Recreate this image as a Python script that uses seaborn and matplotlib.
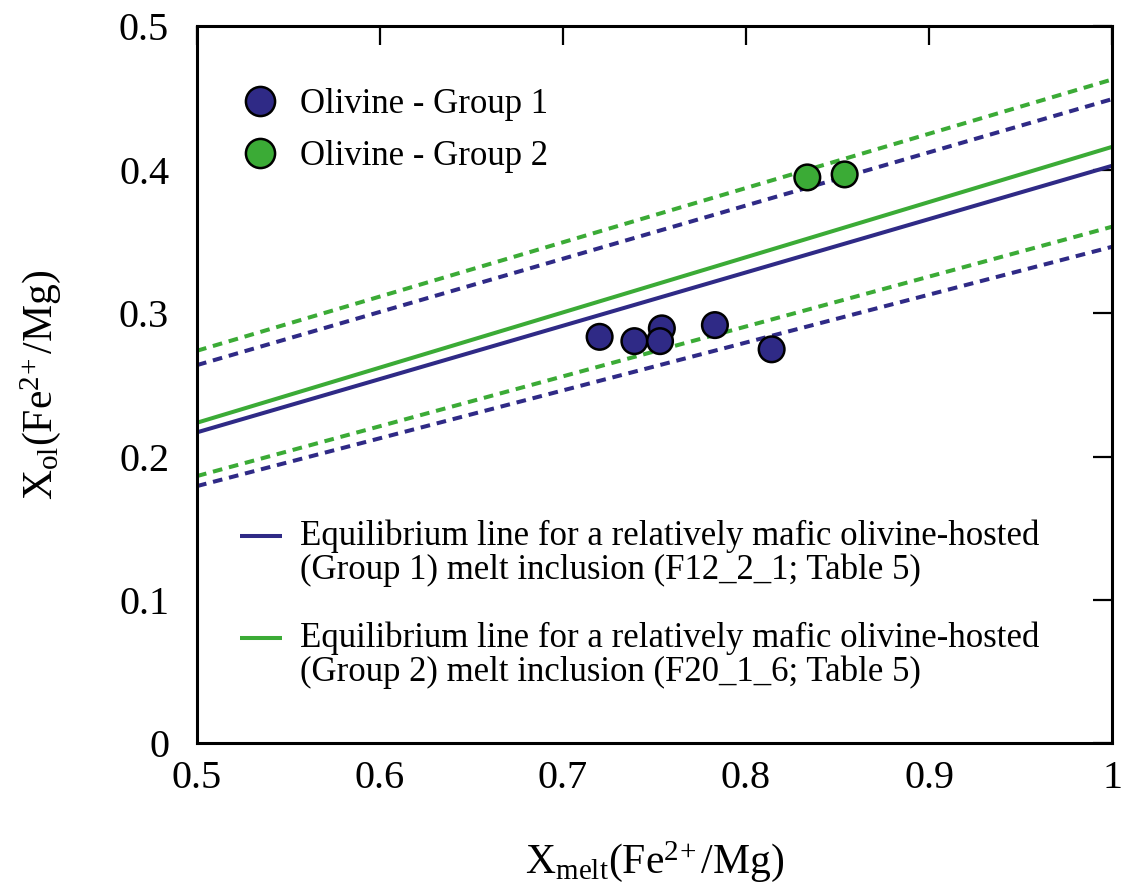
import matplotlib
matplotlib.use("Agg")
import matplotlib.pyplot as plt
import seaborn as sns
import pandas as pd
from matplotlib.lines import Line2D
from matplotlib.legend_handler import HandlerLine2D

# ---- data ----
g1_x = [0.720, 0.739, 0.754, 0.753, 0.783, 0.814]
g1_y = [0.2835, 0.2805, 0.2894, 0.2805, 0.2917, 0.2748]
g2_x = [0.8335, 0.8539]
g2_y = [0.3947, 0.3968]

line_x = [0.5, 1.0]
g1_eq = [0.2169, 0.4028]
g1_upper = [0.2638, 0.4493]
g1_lower = [0.1794, 0.3463]
g2_eq = [0.2236, 0.4160]
g2_upper = [0.2738, 0.4630]
g2_lower = [0.1864, 0.3603]

xticks = [0.5, 0.6, 0.7, 0.8, 0.9, 1.0]
xticklabels = ["0.5", "0.6", "0.7", "0.8", "0.9", "1"]
yticks = [0, 0.1, 0.2, 0.3, 0.4, 0.5]
yticklabels = ["0", "0.1", "0.2", "0.3", "0.4", "0.5"]

BLUE = "#2f2a86"
GREEN = "#3bab36"

sns.set_theme(style="white")
plt.rcParams["font.family"] = ["Liberation Serif", "DejaVu Serif"]
plt.rcParams["mathtext.fontset"] = "custom"
plt.rcParams["mathtext.rm"] = "Liberation Serif"
plt.rcParams["mathtext.it"] = "Liberation Serif:italic"
plt.rcParams["text.color"] = "black"
plt.rcParams["axes.labelcolor"] = "black"
plt.rcParams["xtick.color"] = "black"
plt.rcParams["ytick.color"] = "black"

fig = plt.figure(figsize=(11.22, 8.94), dpi=100)
ax = fig.add_axes([0.1756, 0.1686, 0.8155, 0.8018])

lw = 2.9
dash = (2.4, 1.7)
for ys, c, ls in [(g1_upper, BLUE, "--"), (g1_lower, BLUE, "--"),
                  (g2_upper, GREEN, "--"), (g2_lower, GREEN, "--"),
                  (g1_eq, BLUE, "-"), (g2_eq, GREEN, "-")]:
    df = pd.DataFrame({"x": line_x, "y": ys})
    sns.lineplot(data=df, x="x", y="y", color=c, linewidth=lw, ax=ax)
    line = ax.lines[-1]
    if ls == "--":
        line.set_dashes(dash)
    line.set_solid_capstyle("butt")

pts = pd.DataFrame({
    "x": g1_x + g2_x,
    "y": g1_y + g2_y,
    "grp": ["Olivine - Group 1"] * len(g1_x) + ["Olivine - Group 2"] * len(g2_x),
})
sns.scatterplot(data=pts, x="x", y="y", hue="grp",
                palette={"Olivine - Group 1": BLUE, "Olivine - Group 2": GREEN},
                s=340, edgecolor="black", linewidth=1.8, ax=ax, legend=False, zorder=5)

ax.set_xlim(0.5, 1.0)
ax.set_ylim(0, 0.5)
ax.set_xticks(xticks)
ax.set_xticklabels(xticklabels)
ax.set_yticks(yticks)
ax.set_yticklabels(yticklabels)
ax.tick_params(direction="in", length=14, width=1.6, top=True, right=True,
               labelsize=29, colors="black")
ax.tick_params(axis="x", pad=12)
ax.tick_params(axis="y", pad=20)
for s in ax.spines.values():
    s.set_linewidth(2.2)
    s.set_color("black")

ax.set_xlabel(r"X$_{\mathrm{melt}}$(Fe$^{2\!+}$/Mg)", fontsize=30, labelpad=30)
ax.set_ylabel(r"X$_{\mathrm{ol}}$(Fe$^{2\!+}$/Mg)", fontsize=30, labelpad=40)


class HandlerLineUp(HandlerLine2D):
    def __init__(self, offset=0.0, **kw):
        super().__init__(**kw)
        self.offset = offset

    def create_artists(self, legend, orig_handle, xdescent, ydescent, width,
                       height, fontsize, trans):
        arts = super().create_artists(legend, orig_handle, xdescent, ydescent,
                                      width, height, fontsize, trans)
        for a in arts:
            a.set_ydata([y + self.offset for y in a.get_ydata()])
        return arts


# legend 1: markers
h1 = [Line2D([], [], marker="o", ls="", markersize=21, markerfacecolor=BLUE,
             markeredgecolor="black", markeredgewidth=1.8),
      Line2D([], [], marker="o", ls="", markersize=21, markerfacecolor=GREEN,
             markeredgecolor="black", markeredgewidth=1.8)]
leg1 = ax.legend(h1, ["Olivine - Group 1", "Olivine - Group 2"], loc="upper left",
                 bbox_to_anchor=(0.0497, 0.914), frameon=False, fontsize=25,
                 handlelength=1.0, handletextpad=0.65, labelspacing=0.55,
                 borderpad=0, borderaxespad=0)
ax.add_artist(leg1)

h2 = [Line2D([], [], color=BLUE, lw=lw, solid_capstyle="butt"),
      Line2D([], [], color=GREEN, lw=lw, solid_capstyle="butt")]
labels2 = ["Equilibrium line for a relatively mafic olivine-hosted\n(Group 1) melt inclusion (F12_2_1; Table 5)",
           "Equilibrium line for a relatively mafic olivine-hosted\n(Group 2) melt inclusion (F20_1_6; Table 5)"]
up = HandlerLineUp(offset=12.8)
leg2 = ax.legend(h2, labels2, loc="upper left", bbox_to_anchor=(0.0468, 0.3115),
                 frameon=False, fontsize=25, handlelength=1.2, handletextpad=0.52,
                 labelspacing=1.0, borderpad=0, borderaxespad=0,
                 handler_map={h2[0]: up, h2[1]: up})
for t in leg2.get_texts():
    t.set_linespacing(1.0)

fig.savefig("out.png", dpi=100, facecolor="white")
